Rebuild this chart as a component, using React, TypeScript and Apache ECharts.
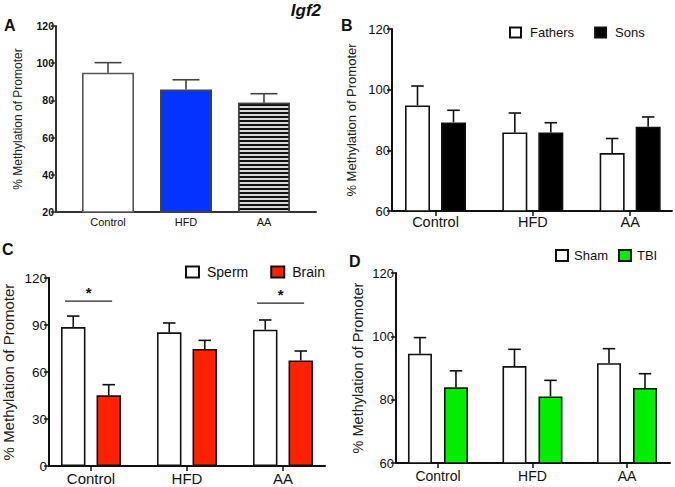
import React, { useEffect, useRef } from 'react';
import * as echarts from 'echarts';

// ---------- data ----------
const categories = ['Control', 'HFD', 'AA'];
const catIndex = [0, 1, 2];

// Panel A (Igf2)
const aMeans = [94.9, 85.8, 78.8];
const aSem = [5.4, 5.3, 4.8];

// Panel B
const fathersMeans = [94.8, 85.9, 79.1];
const fathersSem = [6.4, 6.4, 4.8];
const sonsMeans = [89.2, 85.9, 87.8];
const sonsSem = [4.0, 3.2, 3.2];

// Panel C
const spermMeans = [88.7, 85.3, 87.0];
const spermSem = [7.0, 6.0, 6.2];
const brainMeans = [45.1, 74.7, 67.4];
const brainSem = [6.8, 5.5, 6.0];
const sigCategory = [0, 2];
const sigHeight = [105.3, 104.0];
const sigLabel = ['*', '*'];

// Panel D
const shamMeans = [94.5, 90.6, 91.5];
const shamSem = [5.1, 5.3, 4.6];
const tbiMeans = [83.9, 81.0, 83.7];
const tbiSem = [5.2, 5.1, 4.5];

// axis ranges [min, max, interval]
const yRangeA = [20, 120, 20];
const yRangeB = [60, 120, 20];
const yRangeC = [0, 120, 30];
const yRangeD = [60, 120, 20];

const yTitle = '% Methylation of Promoter';
const FONT = 'Liberation Sans, Arial, Helvetica, sans-serif';

function barData(means: number[]) {
  return catIndex.map((i) => [i, means[i]]);
}
function errData(means: number[], sem: number[]) {
  return catIndex.map((i) => [i, means[i], means[i] + sem[i]]);
}

function errRender(offsetPx: number, capW: number, color: string, lw: number) {
  return (params: any, api: any) => {
    const x = api.value(0);
    const m = api.value(1);
    const t = api.value(2);
    const pm = api.coord([x, m]);
    const pt = api.coord([x, t]);
    const cx = pm[0] + offsetPx;
    const style = { stroke: color, lineWidth: lw, fill: 'none' };
    return {
      type: 'group',
      children: [
        { type: 'line', shape: { x1: cx, y1: pm[1], x2: cx, y2: pt[1] }, style },
        { type: 'line', shape: { x1: cx - capW / 2, y1: pt[1], x2: cx + capW / 2, y2: pt[1] }, style },
      ],
    };
  };
}

function errSeries(idx: number, means: number[], sem: number[], offsetPx: number, capW: number, color: string) {
  return {
    type: 'custom',
    xAxisIndex: idx,
    yAxisIndex: idx,
    coordinateSystem: 'cartesian2d',
    data: errData(means, sem),
    encode: { x: 0, y: [1, 2] },
    renderItem: errRender(offsetPx, capW, color, 1.6),
    silent: true,
    z: 4,
  };
}

function xAxisFor(idx: number, min: number, max: number, fontSize: number, showTick: boolean, margin: number, color: string) {
  return {
    type: 'value',
    gridIndex: idx,
    min,
    max,
    splitLine: { show: false },
    axisLine: { show: true, onZero: false, lineStyle: { color, width: 2 } },
    axisTick: { show: showTick, customValues: catIndex, length: 5, lineStyle: { color, width: 1.5 } },
    axisLabel: {
      customValues: catIndex,
      formatter: (v: number) => categories[Math.round(v)],
      fontSize,
      color: '#111',
      margin,
      fontFamily: FONT,
    },
  };
}

function yAxisFor(
  idx: number,
  range: number[],
  fontSize: number,
  bold: boolean,
  nameSize: number,
  nameGap: number,
  color: string
) {
  return {
    type: 'value',
    gridIndex: idx,
    min: range[0],
    max: range[1],
    interval: range[2],
    splitLine: { show: false },
    axisLine: { show: true, onZero: false, lineStyle: { color, width: 2 } },
    axisTick: { show: true, length: 5, lineStyle: { color, width: 1.5 } },
    axisLabel: {
      fontSize,
      fontWeight: bold ? 'bold' : 'normal',
      color: '#111',
      margin: 2,
      fontFamily: FONT,
    },
    name: yTitle,
    nameLocation: 'middle',
    nameGap,
    nameTextStyle: { fontSize: nameSize, color: '#222', fontFamily: FONT },
  };
}

export default function App() {
  const ref = useRef<HTMLDivElement>(null);

  useEffect(() => {
    if (!ref.current) return;
    const chart = echarts.init(ref.current, undefined, { renderer: 'svg' });

    const option: any = {
      animation: false,
      backgroundColor: '#ffffff',
      textStyle: { fontFamily: FONT },
      grid: [
        { left: 56, top: 26, width: 260, height: 186 },
        { left: 392, top: 29, width: 280, height: 182 },
        { left: 49, top: 278, width: 276, height: 188 },
        { left: 396, top: 273, width: 274, height: 190 },
      ],
      xAxis: [
        xAxisFor(0, -0.667, 2.667, 11, false, 4, '#333'),
        xAxisFor(1, -0.447, 2.43, 14.5, true, 3, '#111'),
        xAxisFor(2, -0.4375, 2.4375, 15, true, 5, '#111'),
        xAxisFor(3, -0.444, 2.455, 14, true, 6, '#111'),
      ],
      yAxis: [
        yAxisFor(0, yRangeA, 10.5, true, 12, 32, '#333'),
        yAxisFor(1, yRangeB, 13, false, 13, 34, '#111'),
        yAxisFor(2, yRangeC, 13.5, false, 15, 33, '#111'),
        yAxisFor(3, yRangeD, 13, false, 14.5, 31, '#111'),
      ],
      legend: [
        {
          data: ['Fathers', 'Sons'],
          left: 509,
          top: 26,
          padding: 0,
          itemGap: 20,
          itemWidth: 11,
          itemHeight: 10,
          icon: 'rect',
          textStyle: { fontSize: 13, color: '#111', fontFamily: FONT, padding: [0, 0, 0, 4] },
        },
        {
          data: ['Sperm', 'Brain'],
          left: 185,
          top: 265,
          padding: 0,
          itemGap: 22,
          itemWidth: 13,
          itemHeight: 11,
          icon: 'rect',
          textStyle: { fontSize: 14, color: '#111', fontFamily: FONT, padding: [0, 0, 0, 3] },
        },
        {
          data: ['Sham', 'TBI'],
          left: 555,
          top: 249,
          padding: 0,
          itemGap: 10,
          itemWidth: 12,
          itemHeight: 11,
          icon: 'rect',
          textStyle: { fontSize: 13, color: '#111', fontFamily: FONT, padding: [0, 0, 0, 1] },
        },
      ],
      graphic: [
        { type: 'text', left: 4, top: 17, style: { text: 'A', font: 'bold 16px ' + FONT, fill: '#111' } },
        {
          type: 'text',
          right: 675 - 321,
          top: 2,
          style: { text: 'Igf2', font: 'italic bold 17px ' + FONT, fill: '#111' },
        },
        { type: 'text', left: 341, top: 17, style: { text: 'B', font: 'bold 16px ' + FONT, fill: '#111' } },
        { type: 'text', left: 2, top: 241, style: { text: 'C', font: 'bold 16px ' + FONT, fill: '#111' } },
        { type: 'text', left: 349, top: 253, style: { text: 'D', font: 'bold 16px ' + FONT, fill: '#111' } },
      ],
      series: [
        // Panel A
        {
          type: 'bar',
          name: 'Igf2',
          xAxisIndex: 0,
          yAxisIndex: 0,
          barWidth: 52,
          data: barData(aMeans).map((d, i) => ({
            value: d,
            itemStyle:
              i === 0
                ? { color: '#ffffff', borderColor: '#555', borderWidth: 1.6 }
                : i === 1
                ? { color: '#0433FF', borderColor: '#444', borderWidth: 1.6 }
                : {
                    color: '#d8d8d8',
                    borderColor: '#444',
                    borderWidth: 1.6,
                    decal: {
                      symbol: 'rect',
                      symbolSize: 1,
                      dashArrayX: [1, 0],
                      dashArrayY: [1.6, 1.4],
                      color: '#111',
                      rotation: 0,
                    },
                  },
          })),
          z: 2,
        },
        errSeries(0, aMeans, aSem, 0, 27, '#444'),

        // Panel B
        {
          type: 'bar',
          name: 'Fathers',
          xAxisIndex: 1,
          yAxisIndex: 1,
          barWidth: 25,
          barGap: '44%',
          data: barData(fathersMeans),
          itemStyle: { color: '#ffffff', borderColor: '#111', borderWidth: 1.6 },
        },
        {
          type: 'bar',
          name: 'Sons',
          xAxisIndex: 1,
          yAxisIndex: 1,
          barWidth: 25,
          barGap: '44%',
          data: barData(sonsMeans),
          itemStyle: { color: '#000000', borderColor: '#111', borderWidth: 1.6 },
        },
        errSeries(1, fathersMeans, fathersSem, -18, 12.5, '#111'),
        errSeries(1, sonsMeans, sonsSem, 18, 12.5, '#111'),

        // Panel C
        {
          type: 'bar',
          name: 'Sperm',
          xAxisIndex: 2,
          yAxisIndex: 2,
          barWidth: 24.5,
          barGap: '45%',
          data: barData(spermMeans),
          itemStyle: { color: '#ffffff', borderColor: '#111', borderWidth: 1.6 },
        },
        {
          type: 'bar',
          name: 'Brain',
          xAxisIndex: 2,
          yAxisIndex: 2,
          barWidth: 24.5,
          barGap: '45%',
          data: barData(brainMeans),
          itemStyle: { color: '#FF2200', borderColor: '#111', borderWidth: 1.6 },
        },
        errSeries(2, spermMeans, spermSem, -17.75, 12.5, '#111'),
        errSeries(2, brainMeans, brainSem, 17.75, 12.5, '#111'),
        {
          type: 'custom',
          xAxisIndex: 2,
          yAxisIndex: 2,
          coordinateSystem: 'cartesian2d',
          data: sigCategory.map((c, i) => [c, sigHeight[i], i]),
          encode: { x: 0, y: 1 },
          silent: true,
          z: 5,
          renderItem: (params: any, api: any) => {
            const c = api.value(0);
            const h = api.value(1);
            const k = api.value(2);
            const p1 = api.coord([c - 0.27, h]);
            const p2 = api.coord([c + 0.22, h]);
            return {
              type: 'group',
              children: [
                {
                  type: 'line',
                  shape: { x1: p1[0], y1: p1[1], x2: p2[0], y2: p2[1] },
                  style: { stroke: '#222', lineWidth: 1.2 },
                },
                {
                  type: 'text',
                  style: {
                    text: sigLabel[k],
                    x: (p1[0] + p2[0]) / 2,
                    y: p1[1] - 1,
                    align: 'center',
                    verticalAlign: 'bottom',
                    font: 'bold 15px ' + FONT,
                    fill: '#111',
                  },
                },
              ],
            };
          },
        },

        // Panel D
        {
          type: 'bar',
          name: 'Sham',
          xAxisIndex: 3,
          yAxisIndex: 3,
          barWidth: 24,
          barGap: '50%',
          data: barData(shamMeans),
          itemStyle: { color: '#ffffff', borderColor: '#111', borderWidth: 1.6 },
        },
        {
          type: 'bar',
          name: 'TBI',
          xAxisIndex: 3,
          yAxisIndex: 3,
          barWidth: 24,
          barGap: '50%',
          data: barData(tbiMeans),
          itemStyle: { color: '#00EE00', borderColor: '#111', borderWidth: 1.6 },
        },
        errSeries(3, shamMeans, shamSem, -18, 12.5, '#111'),
        errSeries(3, tbiMeans, tbiSem, 18, 12.5, '#111'),
      ],
    };

    chart.setOption(option);
    return () => {
      chart.dispose();
    };
  }, []);

  return (
    <div
      ref={ref}
      style={{ position: 'fixed', left: 0, top: 0, width: 675, height: 487, background: '#fff' }}
    />
  );
}
